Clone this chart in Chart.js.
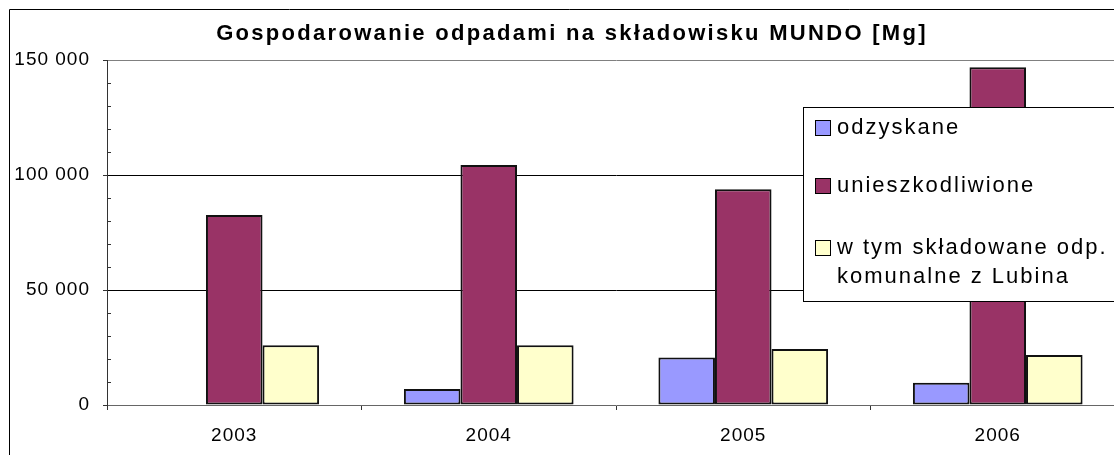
<!DOCTYPE html>
<html>
<head>
<meta charset="utf-8">
<script src="https://cdn.jsdelivr.net/npm/chart.js@4/dist/chart.umd.min.js"></script>
<style>
html, body { margin: 0; padding: 0; overflow: hidden; background: #fff; }
canvas { display: block; }
</style>
</head>
<body>
<canvas id="myChart" width="1130" height="455"></canvas>
<script>
(function () {
// data (Mg)
var years = ['2003', '2004', '2005', '2006'];
var odzyskane = [0, 7000, 20700, 9700];
var unieszkodliwione = [82600, 104300, 93800, 146800];
var skladowane = [26000, 26000, 24300, 21700];
var legendLines = [['odzyskane'], ['unieszkodliwione'], ['w tym składowane odp.', 'komunalne z Lubina']];
var chartTitle = 'Gospodarowanie odpadami na składowisku MUNDO [Mg]';
var yMax = 150000;
var yMajor = 50000;
var yMinor = 10000;

var FONT = "'Liberation Sans', Arial, sans-serif";

function fmt(v) {
  return String(v).replace(/\B(?=(\d{3})+(?!\d))/g, ' ');
}

var decor = {
  id: 'decor',
  beforeDraw: function (chart) {
    var ctx = chart.ctx;
    ctx.save();
    ctx.strokeStyle = '#000';
    ctx.lineWidth = 1;
    ctx.beginPath();
    ctx.moveTo(9.5, chart.height);
    ctx.lineTo(9.5, 9.5);
    ctx.lineTo(chart.width, 9.5);
    ctx.stroke();
    ctx.restore();
    ctx.letterSpacing = '1px';
  },
  afterDraw: function (chart) {
    var ctx = chart.ctx;
    var area = chart.chartArea;
    var y = chart.scales.y;
    ctx.save();
    // minor ticks inside the value axis
    ctx.strokeStyle = '#333';
    ctx.lineWidth = 1;
    y.ticks.forEach(function (t) {
      if (t.value % yMajor !== 0) {
        var py = Math.round(y.getPixelForValue(t.value)) + 0.5;
        ctx.beginPath();
        ctx.moveTo(area.left, py);
        ctx.lineTo(area.left + 4, py);
        ctx.stroke();
      }
    });

    // title
    ctx.letterSpacing = '2.3px';
    ctx.font = 'bold 22px ' + FONT;
    ctx.fillStyle = '#000';
    ctx.textAlign = 'center';
    ctx.textBaseline = 'alphabetic';
    ctx.fillText(chartTitle, 572, 40);

    // legend box
    var lx = 803.5, ly = 107.5, lh = 194;
    ctx.fillStyle = '#fff';
    ctx.fillRect(lx, ly, chart.width - lx + 10, lh);
    ctx.strokeStyle = '#000';
    ctx.strokeRect(lx, ly, chart.width - lx + 10, lh);

    var baselines = [134, 192, 254];
    ctx.letterSpacing = '2px';
    ctx.font = '22px ' + FONT;
    ctx.textAlign = 'left';
    chart.data.datasets.forEach(function (ds, i) {
      var b = baselines[i];
      ctx.fillStyle = ds.backgroundColor;
      ctx.fillRect(815.5, b - 13.5, 15, 15);
      ctx.strokeStyle = '#000';
      ctx.strokeRect(815.5, b - 13.5, 15, 15);
      ctx.fillStyle = '#000';
      legendLines[i].forEach(function (line, k) {
        ctx.fillText(line, 837, b + k * 29);
      });
    });
    ctx.restore();
  }
};

var ctx = document.getElementById('myChart');
var myChart = new Chart(ctx, {
  type: 'bar',
  data: {
    labels: years,
    datasets: [{
      label: legendLines[0].join(' '),
      data: odzyskane,
      backgroundColor: '#9999FF'
    }, {
      label: legendLines[1].join(' '),
      data: unieszkodliwione,
      backgroundColor: '#993366'
    }, {
      label: legendLines[2].join(' '),
      data: skladowane,
      backgroundColor: '#FFFFCC'
    }]
  },
  options: {
    responsive: false,
    animation: false,
    layout: { padding: { top: 60, right: 5, bottom: 0, left: 0 } },
    datasets: {
      bar: {
        categoryPercentage: 3 / 4.5,
        barPercentage: 1,
        borderColor: '#111',
        borderWidth: 2,
        borderSkipped: false
      }
    },
    plugins: {
      legend: { display: false },
      title: { display: false },
      tooltip: { enabled: false }
    },
    scales: {
      x: {
        afterFit: function (s) { s.height = 50; },
        grid: {
          offset: true,
          drawOnChartArea: false,
          tickLength: 5,
          color: '#333'
        },
        border: { color: '#666', width: 1 },
        ticks: {
          color: '#000',
          padding: 14,
          font: { family: FONT, size: 19 }
        }
      },
      y: {
        min: 0,
        max: yMax,
        afterFit: function (s) { s.width = 107; },
        grid: {
          tickLength: 4,
          color: function (c) {
            var v = c.tick.value;
            if (v === yMax) return '#808080';
            if (v === 0) return 'rgba(0,0,0,0)';
            return v % yMajor === 0 ? '#000' : 'rgba(0,0,0,0)';
          },
          tickColor: function (c) {
            return c.tick.value % yMajor === 0 ? '#333' : 'rgba(0,0,0,0)';
          }
        },
        border: { color: '#333', width: 1 },
        ticks: {
          stepSize: yMinor,
          autoSkip: false,
          color: '#000',
          padding: 13,
          font: { family: FONT, size: 19 },
          callback: function (v) { return v % yMajor === 0 ? fmt(v) : ''; }
        }
      }
    }
  },
  plugins: [decor]
});
})();
</script>
</body>
</html>
